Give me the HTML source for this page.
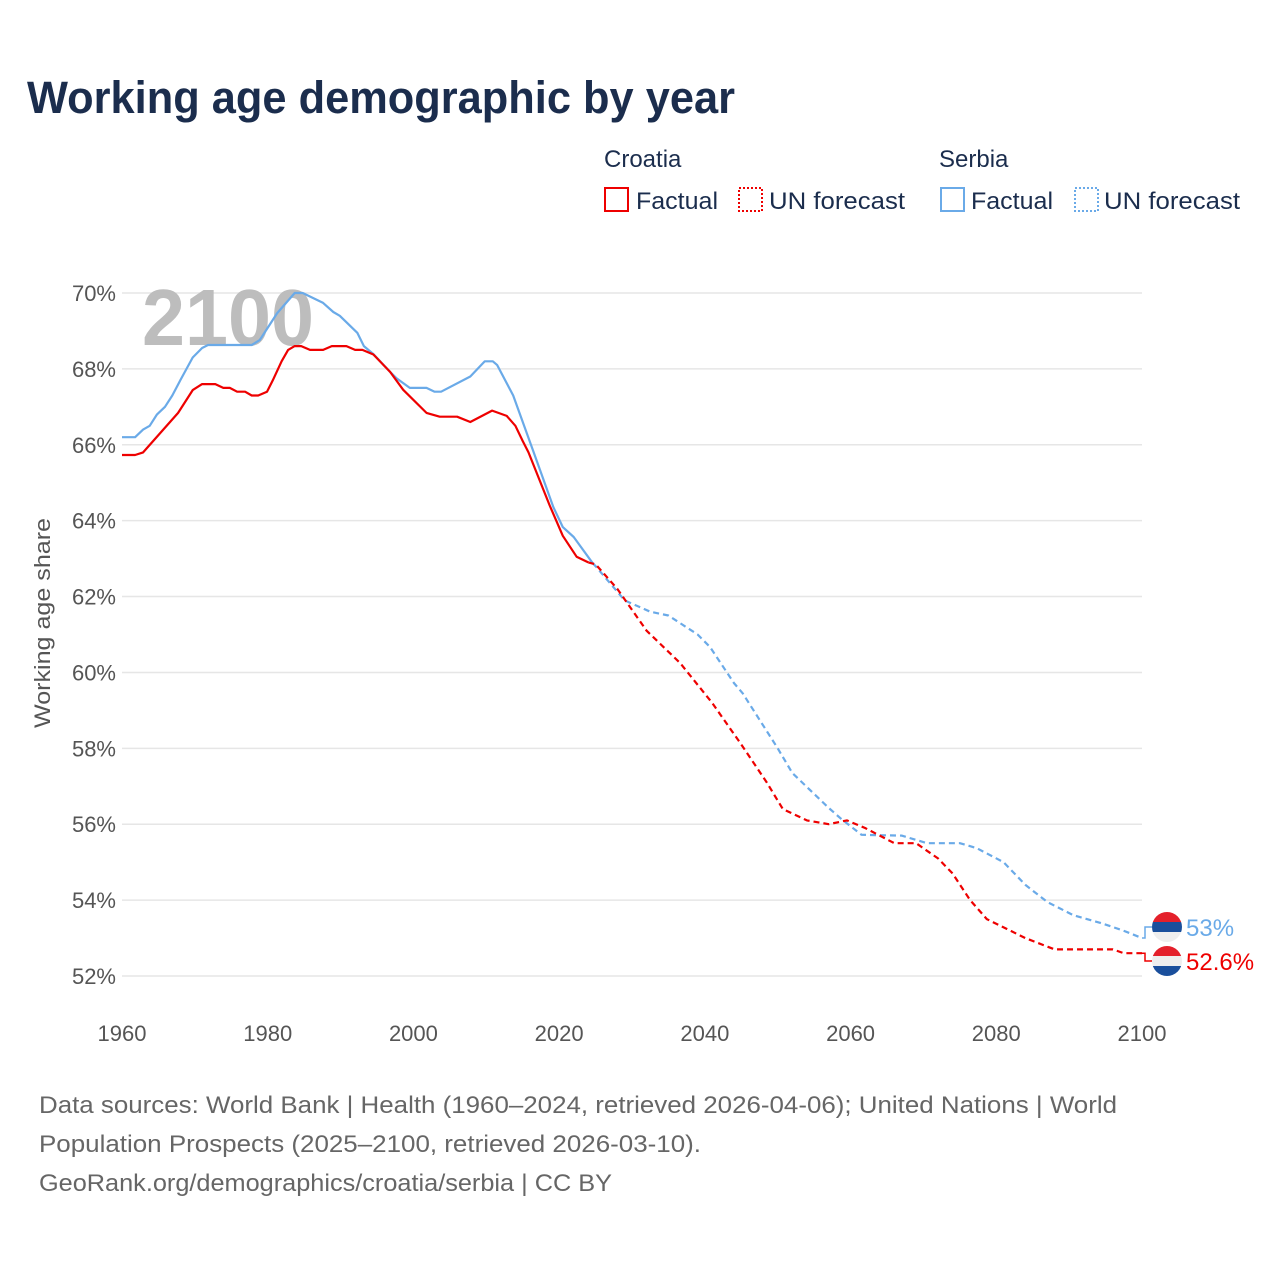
<!DOCTYPE html>
<html><head><meta charset="utf-8"><style>
body{margin:0;background:#fff;font-family:"Liberation Sans",sans-serif;}
svg text{font-family:"Liberation Sans",sans-serif;}
</style></head><body>
<svg width="1280" height="1280" viewBox="0 0 1280 1280">
<text x="27" y="113" font-size="45" font-weight="bold" fill="#1b2d4d" textLength="708" lengthAdjust="spacingAndGlyphs">Working age demographic by year</text>
<g font-size="24" fill="#1b2d4d">
<text x="604" y="167">Croatia</text>
<text x="939" y="167">Serbia</text>
<rect x="605" y="188" width="23" height="23" fill="none" stroke="#ee0000" stroke-width="2"/>
<text x="636" y="209" textLength="82" lengthAdjust="spacingAndGlyphs">Factual</text>
<rect x="739" y="188" width="23" height="23" fill="none" stroke="#ee0000" stroke-width="2" stroke-dasharray="2,2"/>
<text x="769" y="209" textLength="136" lengthAdjust="spacingAndGlyphs">UN forecast</text>
<rect x="941" y="188" width="23" height="23" fill="none" stroke="#6aaae8" stroke-width="2"/>
<text x="971" y="209" textLength="82" lengthAdjust="spacingAndGlyphs">Factual</text>
<rect x="1075" y="188" width="23" height="23" fill="none" stroke="#6aaae8" stroke-width="2" stroke-dasharray="2,2"/>
<text x="1104" y="209" textLength="136" lengthAdjust="spacingAndGlyphs">UN forecast</text>
</g>
<g id="grid"></g>
<g id="yt" font-size="22" fill="#555" text-anchor="end"></g>
<g id="xt" font-size="22" fill="#555" text-anchor="middle"></g>
<text transform="translate(50,623) rotate(-90)" font-size="22" fill="#555" text-anchor="middle" textLength="210" lengthAdjust="spacingAndGlyphs">Working age share</text>
<text x="142" y="345" font-size="80" font-weight="bold" fill="#bdbdbd" textLength="172" lengthAdjust="spacingAndGlyphs">2100</text>
<g id="series"></g>
<g id="labels"></g>
<g font-size="24" fill="#666">
<text x="39" y="1113" textLength="1078" lengthAdjust="spacingAndGlyphs">Data sources: World Bank | Health (1960–2024, retrieved 2026-04-06); United Nations | World</text>
<text x="39" y="1152" textLength="662" lengthAdjust="spacingAndGlyphs">Population Prospects (2025–2100, retrieved 2026-03-10).</text>
<text x="39" y="1191" textLength="573" lengthAdjust="spacingAndGlyphs">GeoRank.org/demographics/croatia/serbia | CC BY</text>
</g>
</svg>
<script>
const yTicks=[52,54,56,58,60,62,64,66,68,70];
const xTicks=[1960,1980,2000,2020,2040,2060,2080,2100];
const hrYears=[1960,1961.8,1962.9,1967.7,1969.7,1971,1972.8,1973.9,1974.8,1975.8,1976.9,1977.8,1978.7,1979.9,1980.7,1981.9,1982.8,1983.7,1984.6,1985.8,1987.6,1988.8,1990.8,1992,1993,1994.5,1996.8,1998.6,2001.8,2003.6,2006,2007.8,2010.8,2012.8,2014,2015,2015.8,2018.7,2020.5,2022.4,2024];
const hrFact=[65.73,65.73,65.8,66.84,67.44,67.6,67.6,67.5,67.5,67.4,67.4,67.3,67.3,67.4,67.7,68.2,68.5,68.6,68.6,68.5,68.5,68.6,68.6,68.5,68.5,68.38,67.92,67.45,66.84,66.74,66.74,66.6,66.9,66.76,66.5,66.1,65.8,64.4,63.6,63.05,62.9];
const hrFcYears=[2024,2025,2028,2032,2036.6,2041,2045,2048.5,2050.7,2054,2057,2059.5,2062,2066,2069,2072,2074,2076.4,2078.7,2084,2088,2096,2097.5,2100];
const hrFc=[62.9,62.85,62.2,61.1,60.25,59.2,58.1,57.1,56.4,56.1,56.0,56.1,55.9,55.5,55.5,55.1,54.7,54.0,53.5,53.0,52.7,52.7,52.6,52.6];
const rsYears=[1960,1961.8,1962.9,1963.8,1964.8,1965.9,1966.9,1968,1969.7,1971,1971.8,1977.8,1978.9,1981.3,1983.7,1984.8,1987.6,1989,1989.9,1992.3,1993.2,1994.5,1996.8,1997.7,1999.5,2001.8,2002.9,2003.8,2007.8,2009.8,2010.9,2011.5,2013.7,2016.4,2019.2,2020.5,2022,2024.6];
const rsFact=[66.2,66.2,66.4,66.5,66.8,67.0,67.3,67.7,68.3,68.55,68.63,68.63,68.76,69.47,70.0,70.0,69.74,69.5,69.4,68.95,68.6,68.39,67.92,67.75,67.5,67.5,67.4,67.4,67.8,68.2,68.2,68.1,67.3,65.86,64.36,63.83,63.57,62.88];
const rsFcYears=[2024.6,2025,2029,2032.5,2035,2039,2040.7,2044,2045.2,2050,2052,2057,2058.6,2061.5,2067,2070.5,2075,2077.3,2081,2084,2087,2090.6,2094.3,2097.4,2100];
const rsFc=[62.88,62.8,61.9,61.6,61.5,61.0,60.67,59.72,59.45,58.0,57.35,56.43,56.16,55.72,55.7,55.5,55.5,55.37,55.0,54.4,53.95,53.6,53.4,53.2,53.0];
const NS='http://www.w3.org/2000/svg';
const X=y=>122+(y-1960)*1020/140;
const Y=v=>293+(70-v)*683/18;
function mk(tag,attrs,parent){const e=document.createElementNS(NS,tag);for(const k in attrs)e.setAttribute(k,attrs[k]);document.getElementById(parent).appendChild(e);return e;}
yTicks.forEach(t=>{
 const l=mk('line',{x1:122,x2:1142,y1:Y(t),y2:Y(t),stroke:'#e6e6e6','stroke-width':1.5},'grid');
 
 
 const tx=mk('text',{x:116,y:Y(t)+8},'yt');tx.textContent=t+'%';
 
 
});
xTicks.forEach(t=>{
 const tx=mk('text',{x:X(t),y:1041},'xt');tx.textContent=t;
 
 
});
function line(ys,vs,color,dash,name){
 const d=ys.map((y,i)=>(i?'L':'M')+X(y).toFixed(1)+','+Y(vs[i]).toFixed(1)).join('');
 const p=mk('path',{d:d,fill:'none',stroke:color,'stroke-width':2.2,'stroke-linejoin':'round'},'series');
 if(dash)p.setAttribute('stroke-dasharray','6,4');
 
 
}
line(rsYears,rsFact,'#6aaae8',false,'serbia-factual-line');
line(hrYears,hrFact,'#ee0000',false,'croatia-factual-line');
line(rsFcYears,rsFc,'#6aaae8',true,'serbia-forecast-line');
line(hrFcYears,hrFc,'#ee0000',true,'croatia-forecast-line');
function endLabel(v,ly,color,txt,name,flag){
 const ex=X(2100),ey=Y(v);
 const c=mk('path',{d:`M${ex},${ey} L${ex+3},${ey} L${ex+3},${ly} L${ex+10},${ly}`,fill:'none',stroke:color,'stroke-width':1.5},'labels');
 
 
 const cx=1167;
 const g=mk('g',{},'labels');
 
 
 const cp='cp'+name;
 const defs=document.createElementNS(NS,'clipPath');defs.setAttribute('id',cp);
 const cc=document.createElementNS(NS,'circle');cc.setAttribute('cx',cx);cc.setAttribute('cy',ly);cc.setAttribute('r',15);defs.appendChild(cc);g.appendChild(defs);
 flag.forEach((col,i)=>{const r=document.createElementNS(NS,'rect');r.setAttribute('x',cx-15);r.setAttribute('y',ly-15+i*10);r.setAttribute('width',30);r.setAttribute('height',10);r.setAttribute('fill',col);r.setAttribute('clip-path','url(#'+cp+')');g.appendChild(r);});
 const t=mk('text',{x:1186,y:ly+9,'font-size':24,fill:color},'labels');t.textContent=txt;
 
 
}
endLabel(rsFc[rsFc.length-1],927,'#6aaae8','53%','serbia-end',['#e4202b','#1a4f9c','#eeeeee']);
endLabel(hrFc[hrFc.length-1],961,'#ee0000','52.6%','croatia-end',['#e4202b','#eeeeee','#1a4f9c']);
</script>
</body></html>
